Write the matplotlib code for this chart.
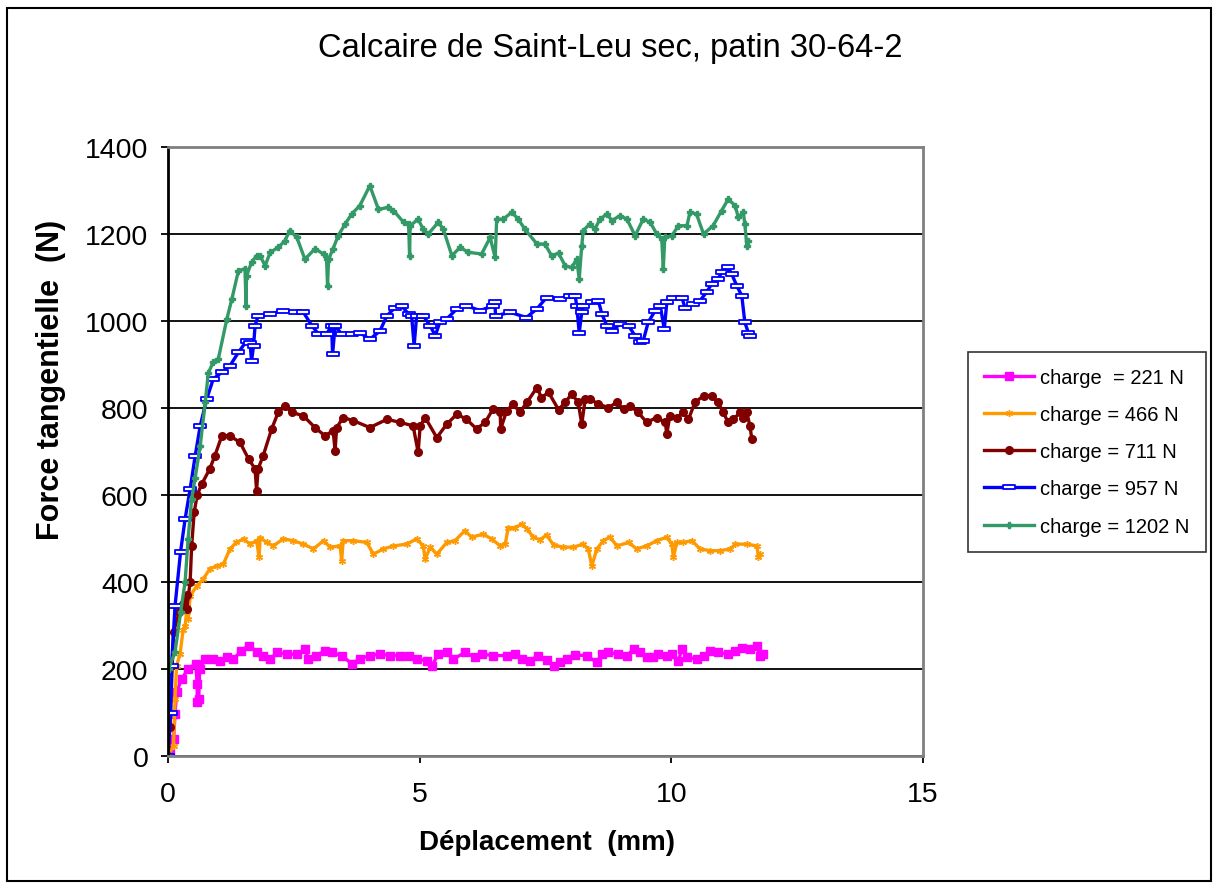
import matplotlib.pyplot as plt
from matplotlib.patches import Rectangle
from matplotlib.path import Path

plt.rcParams['font.family'] = ['Liberation Sans', 'DejaVu Sans']

# displacement (mm), tangential force (N) for each normal load
charge_221 = [(0, 0), (0.04, 5), (0.11, 39), (0.14, 97), (0.17, 146), (0.27, 177), (0.40, 200),
              (0.55, 212), (0.58, 165), (0.58, 125), (0.61, 130), (0.63, 200), (0.74, 223), (0.90, 223),
              (1.03, 219), (1.17, 227), (1.30, 223), (1.46, 242), (1.60, 254), (1.76, 240), (1.89, 231),
              (2.03, 222), (2.16, 238), (2.36, 234), (2.56, 234), (2.72, 246), (2.79, 223), (2.95, 231),
              (3.12, 242), (3.25, 238), (3.45, 231), (3.65, 212), (3.81, 223), (4.01, 231), (4.21, 234),
              (4.41, 231), (4.61, 231), (4.78, 231), (4.94, 223), (5.14, 219), (5.24, 207), (5.37, 234),
              (5.54, 238), (5.67, 223), (5.90, 238), (6.10, 227), (6.23, 234), (6.46, 231), (6.73, 231),
              (6.89, 234), (7.03, 223), (7.19, 219), (7.36, 231), (7.52, 221), (7.66, 207), (7.79, 215),
              (7.92, 223), (8.09, 232), (8.32, 231), (8.52, 215), (8.62, 234), (8.75, 238), (8.95, 234),
              (9.12, 231), (9.25, 246), (9.38, 238), (9.51, 227), (9.64, 227), (9.74, 234), (9.91, 231),
              (10.01, 234), (10.14, 219), (10.21, 246), (10.31, 227), (10.50, 223), (10.64, 231),
              (10.77, 242), (10.93, 238), (11.13, 234), (11.27, 242), (11.40, 249), (11.56, 246),
              (11.70, 253), (11.76, 231), (11.83, 234)]

charge_466 = [(0, 0), (0.11, 24), (0.14, 131), (0.17, 207), (0.24, 235), (0.30, 290), (0.34, 300),
              (0.37, 331), (0.40, 315), (0.44, 368), (0.57, 391), (0.70, 407), (0.83, 430), (0.97, 437),
              (1.10, 441), (1.23, 476), (1.36, 491), (1.50, 499), (1.63, 487), (1.76, 495), (1.81, 457),
              (1.83, 502), (1.96, 491), (2.09, 483), (2.29, 499), (2.49, 495), (2.69, 487), (2.89, 476),
              (3.09, 495), (3.22, 480), (3.42, 483), (3.45, 449), (3.48, 495), (3.68, 495), (3.95, 491),
              (4.08, 464), (4.28, 476), (4.48, 483), (4.74, 487), (4.94, 499), (5.07, 483), (5.11, 453),
              (5.21, 480), (5.34, 464), (5.54, 491), (5.70, 495), (5.90, 518), (6.03, 503), (6.26, 510),
              (6.43, 499), (6.60, 483), (6.70, 487), (6.76, 525), (6.89, 525), (7.03, 533), (7.13, 522),
              (7.26, 503), (7.39, 497), (7.52, 508), (7.66, 485), (7.85, 480), (8.05, 480), (8.25, 487),
              (8.35, 476), (8.42, 437), (8.52, 476), (8.65, 495), (8.78, 503), (8.92, 483), (9.15, 491),
              (9.31, 476), (9.51, 483), (9.71, 495), (9.91, 503), (10.01, 487), (10.04, 457), (10.11, 491),
              (10.24, 491), (10.41, 495), (10.57, 476), (10.77, 472), (10.97, 472), (11.17, 476),
              (11.27, 487), (11.50, 487), (11.70, 483), (11.73, 457), (11.76, 464)]

charge_711 = [(0, 0), (0.04, 67), (0.11, 285), (0.22, 330), (0.30, 350), (0.37, 370), (0.37, 338),
              (0.44, 400), (0.47, 483), (0.52, 560), (0.58, 600), (0.67, 625), (0.83, 660), (0.93, 690),
              (1.07, 736), (1.23, 736), (1.43, 721), (1.60, 683), (1.73, 660), (1.76, 610), (1.79, 660),
              (1.89, 690), (2.06, 752), (2.19, 790), (2.32, 805), (2.46, 790), (2.69, 782), (2.92, 755),
              (3.12, 736), (3.28, 748), (3.32, 702), (3.35, 755), (3.48, 778), (3.68, 771), (4.01, 755),
              (4.35, 774), (4.61, 767), (4.87, 759), (4.97, 698), (5.01, 759), (5.11, 778), (5.34, 732),
              (5.54, 763), (5.74, 786), (5.93, 774), (6.13, 752), (6.30, 767), (6.46, 798), (6.60, 790),
              (6.61, 752), (6.73, 794), (6.86, 809), (6.99, 790), (7.13, 813), (7.33, 847), (7.42, 824),
              (7.56, 836), (7.76, 796), (7.89, 813), (8.02, 832), (8.15, 813), (8.22, 763), (8.29, 821),
              (8.38, 821), (8.55, 809), (8.75, 801), (8.92, 813), (9.05, 798), (9.18, 805), (9.34, 790),
              (9.51, 767), (9.71, 778), (9.88, 767), (9.91, 740), (9.97, 782), (10.11, 778), (10.24, 790),
              (10.34, 774), (10.47, 813), (10.64, 828), (10.80, 828), (10.93, 813), (11.03, 790),
              (11.13, 767), (11.23, 774), (11.37, 790), (11.43, 778), (11.50, 790), (11.56, 759),
              (11.60, 729)]

charge_957 = [(0, 0), (0.05, 100), (0.07, 207), (0.14, 345), (0.25, 470), (0.34, 545), (0.44, 614),
              (0.54, 690), (0.64, 759), (0.77, 821), (0.90, 867), (1.07, 882), (1.23, 897), (1.40, 928),
              (1.56, 954), (1.63, 950), (1.66, 908), (1.70, 943), (1.73, 989), (1.79, 1012), (2.03, 1016),
              (2.29, 1024), (2.52, 1020), (2.69, 1020), (2.86, 989), (2.99, 970), (3.15, 970), (3.25, 989),
              (3.27, 924), (3.32, 989), (3.45, 970), (3.65, 970), (3.81, 973), (4.01, 958), (4.21, 977),
              (4.35, 1012), (4.51, 1031), (4.64, 1035), (4.78, 1016), (4.84, 1012), (4.89, 943),
              (4.94, 1012), (5.07, 1012), (5.21, 989), (5.31, 966), (5.40, 997), (5.54, 1005),
              (5.74, 1028), (5.93, 1035), (6.20, 1024), (6.46, 1035), (6.49, 1043), (6.51, 1012),
              (6.80, 1020), (7.12, 1008), (7.33, 1028), (7.52, 1054), (7.79, 1051), (7.99, 1058),
              (8.09, 1058), (8.12, 1035), (8.17, 973), (8.22, 1020), (8.25, 1035), (8.42, 1043),
              (8.55, 1047), (8.62, 1016), (8.72, 989), (8.82, 977), (8.98, 993), (9.15, 989), (9.28, 966),
              (9.38, 951), (9.44, 954), (9.54, 997), (9.68, 1024), (9.78, 1035), (9.86, 981), (9.91, 1043),
              (10.04, 1054), (10.21, 1054), (10.27, 1031), (10.44, 1039), (10.57, 1047), (10.70, 1066),
              (10.80, 1085), (10.93, 1097), (11.00, 1112), (11.13, 1123), (11.20, 1108), (11.30, 1081),
              (11.40, 1058), (11.46, 997), (11.53, 973), (11.56, 966)]

charge_1202 = [(0, 0), (0.01, 200), (0.14, 239), (0.25, 330), (0.34, 400), (0.40, 500), (0.47, 591),
               (0.54, 640), (0.64, 713), (0.74, 813), (0.80, 880), (0.90, 906), (1.00, 913), (1.17, 1005),
               (1.27, 1051), (1.40, 1116), (1.53, 1120), (1.55, 1035), (1.56, 1104), (1.66, 1135),
               (1.76, 1150), (1.83, 1150), (1.93, 1127), (2.03, 1158), (2.19, 1169), (2.32, 1184),
               (2.42, 1208), (2.56, 1192), (2.72, 1142), (2.92, 1166), (3.09, 1154), (3.15, 1142),
               (3.17, 1081), (3.19, 1142), (3.28, 1166), (3.38, 1196), (3.52, 1223), (3.65, 1246),
               (3.81, 1265), (4.01, 1311), (4.18, 1257), (4.38, 1261), (4.48, 1254), (4.68, 1227),
               (4.78, 1223), (4.80, 1150), (4.81, 1219), (4.97, 1234), (5.07, 1211), (5.17, 1200),
               (5.37, 1227), (5.47, 1211), (5.64, 1150), (5.80, 1169), (5.97, 1158), (6.23, 1154),
               (6.40, 1192), (6.50, 1146), (6.53, 1234), (6.66, 1234), (6.83, 1250), (6.96, 1234),
               (7.09, 1211), (7.33, 1177), (7.49, 1177), (7.62, 1150), (7.76, 1156), (7.89, 1127),
               (8.02, 1123), (8.12, 1142), (8.17, 1097), (8.22, 1173), (8.25, 1208), (8.38, 1223),
               (8.48, 1211), (8.58, 1234), (8.72, 1246), (8.82, 1231), (8.98, 1242), (9.12, 1234),
               (9.28, 1196), (9.44, 1234), (9.58, 1227), (9.71, 1200), (9.81, 1188), (9.84, 1120),
               (9.87, 1192), (10.01, 1196), (10.14, 1219), (10.31, 1219), (10.37, 1250), (10.50, 1246),
               (10.64, 1200), (10.83, 1219), (11.00, 1254), (11.13, 1280), (11.27, 1265), (11.33, 1238),
               (11.43, 1250), (11.46, 1223), (11.50, 1173), (11.53, 1184)]

labels = ["charge  = 221 N", "charge = 466 N", "charge = 711 N", "charge = 957 N", "charge = 1202 N"]
y_ticks = [0, 200, 400, 600, 800, 1000, 1200, 1400]
x_ticks = [0, 5, 10, 15]

# hollow flat box used as the 957 N marker
box = Path([(-1, -0.4), (1, -0.4), (1, 0.4), (-1, 0.4), (-1, -0.4)],
           [Path.MOVETO, Path.LINETO, Path.LINETO, Path.LINETO, Path.CLOSEPOLY])

styles = [
    dict(color="#FF00FF", marker="s", ms=5.5, mfc="#FF00FF", mec="#FF00FF"),
    dict(color="#FF9900", marker=(6, 2, 0), ms=5, mec="#FF9900", mew=1.0),
    dict(color="#800000", marker="o", ms=5.5, mfc="#800000", mec="#800000"),
    dict(color="#0000FF", marker=box, ms=8, mfc="white", mec="#0000FF", mew=1.3),
    dict(color="#339966", marker="P", ms=4.5, mfc="#339966", mec="#339966"),
]

fig = plt.figure(figsize=(12.16, 8.87), dpi=100)
ax = fig.add_axes([168 / 1216, 1 - 757 / 887, 755 / 1216, 609 / 887])

for data, label, st in zip([charge_221, charge_466, charge_711, charge_957, charge_1202], labels, styles):
    xs, ys = zip(*data)
    ax.plot(xs, ys, lw=2.4, label=label, **st)

ax.set_xlim(0, 15)
ax.set_ylim(0, 1400)
ax.set_xticks(x_ticks)
ax.set_yticks(y_ticks)
ax.yaxis.grid(True, color="black", lw=1.3)
ax.set_axisbelow(True)
ax.tick_params(labelsize=20.5, length=5, width=1.3)
ax.tick_params(axis="x", pad=13)
ax.tick_params(axis="y", pad=9)

for side in ["top", "right", "bottom"]:
    ax.spines[side].set_color("#808080")
    ax.spines[side].set_linewidth(2)
ax.spines["left"].set_color("black")
ax.spines["left"].set_linewidth(2)

fig.text(610 / 1216, 1 - 48 / 887, "Calcaire de Saint-Leu sec, patin 30-64-2",
         fontsize=23.5, ha="center", va="center")
fig.text(51 / 1216, 1 - 380 / 887, "Force tangentielle  (N)", fontsize=22,
         fontweight="bold", rotation=90, ha="center", va="center")
fig.text(547 / 1216, 1 - 843 / 887, "Déplacement  (mm)", fontsize=20,
         fontweight="bold", ha="center", va="center")

leg = ax.legend(loc="upper left", bbox_to_anchor=(968 / 1216, 1 - 353 / 887),
                bbox_transform=fig.transFigure, fontsize=14.5, frameon=True, fancybox=False,
                edgecolor="black", borderaxespad=0, borderpad=0.8, labelspacing=0.9,
                handlelength=2.5, handletextpad=0.3)
leg.get_frame().set_linewidth(1.2)

# outer chart border
fig.patches.append(Rectangle((7 / 1216, 1 - 882 / 887), 1204 / 1216, 873 / 887,
                             transform=fig.transFigure, fill=False, ec="black", lw=1.5))

fig.savefig("out.png", dpi=100)
